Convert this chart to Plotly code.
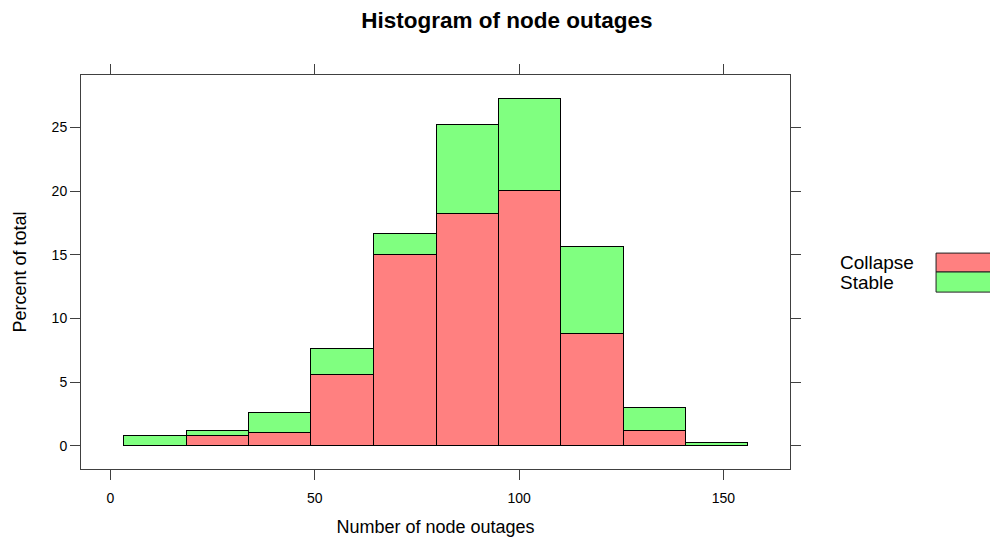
import plotly.graph_objects as go

# Histogram bins (number of node outages) and percent of total per group
bin_edges = [3.4, 18.7, 34.0, 49.2, 64.5, 79.8, 95.0, 110.3, 125.6, 140.8, 156.1]
collapse_pct = [0.0, 0.8, 1.0, 5.6, 15.0, 18.2, 20.0, 8.8, 1.2, 0.0]
stable_pct = [0.8, 0.4, 1.6, 2.0, 1.6, 7.0, 7.2, 6.8, 1.8, 0.2]
group_names = ["Collapse", "Stable"]
group_colors = ["#FF8080", "#80FF80"]
x_ticks = [0, 50, 100, 150]
y_ticks = [0, 5, 10, 15, 20, 25]

centers = [(a + b) / 2 for a, b in zip(bin_edges[:-1], bin_edges[1:])]
widths = [b - a for a, b in zip(bin_edges[:-1], bin_edges[1:])]

fig = go.Figure()
for name, vals, col in zip(group_names, [collapse_pct, stable_pct], group_colors):
    fig.add_trace(go.Bar(
        x=centers, y=vals, width=widths, name=name,
        marker=dict(color=col, line=dict(color="black", width=1)),
        showlegend=False,
    ))

font_family = "Liberation Sans, Arial, sans-serif"
axis_common = dict(
    showline=True, linecolor="#404040", linewidth=1, mirror="allticks",
    ticks="outside", ticklen=10, tickcolor="#404040", tickwidth=1,
    showgrid=False, zeroline=False, automargin=False,
    tickfont=dict(family=font_family, size=14, color="black"),
)

fig.update_layout(
    width=990, height=540,
    margin=dict(l=81, r=200, t=75, b=71),
    plot_bgcolor="white", paper_bgcolor="white",
    barmode="stack", bargap=0,
    font=dict(family=font_family, color="black"),
    title=dict(text="<b>Histogram of node outages</b>", x=0.512, xanchor="center",
               y=0.963, yanchor="middle",
               font=dict(family=font_family, size=22.5, color="black")),
    xaxis=dict(range=[-7.2, 166.3], tickvals=x_ticks, ticklabelstandoff=6,
               title=dict(text="Number of node outages", standoff=15,
                          font=dict(family=font_family, size=18)),
               **axis_common),
    yaxis=dict(range=[-1.81, 29.12], tickvals=y_ticks,
               title=dict(text="Percent of total", standoff=20,
                          font=dict(family=font_family, size=18)),
               **axis_common),
)

# Key: labels to the left of stacked colour boxes
key_rows = [(0.548, 0.5), (0.5, 0.449)]
for name, col, (y1, y0) in zip(group_names, group_colors, key_rows):
    fig.add_shape(type="rect", xref="paper", yref="paper",
                  x0=1.206, x1=1.30, y0=y0, y1=y1,
                  fillcolor=col, line=dict(color="#202020", width=1))
    fig.add_annotation(text=name, xref="paper", yref="paper",
                       x=1.0677, y=(y0 + y1) / 2, xanchor="left", yanchor="middle",
                       showarrow=False, font=dict(family=font_family, size=19, color="black"))

fig.write_html("out.html")
